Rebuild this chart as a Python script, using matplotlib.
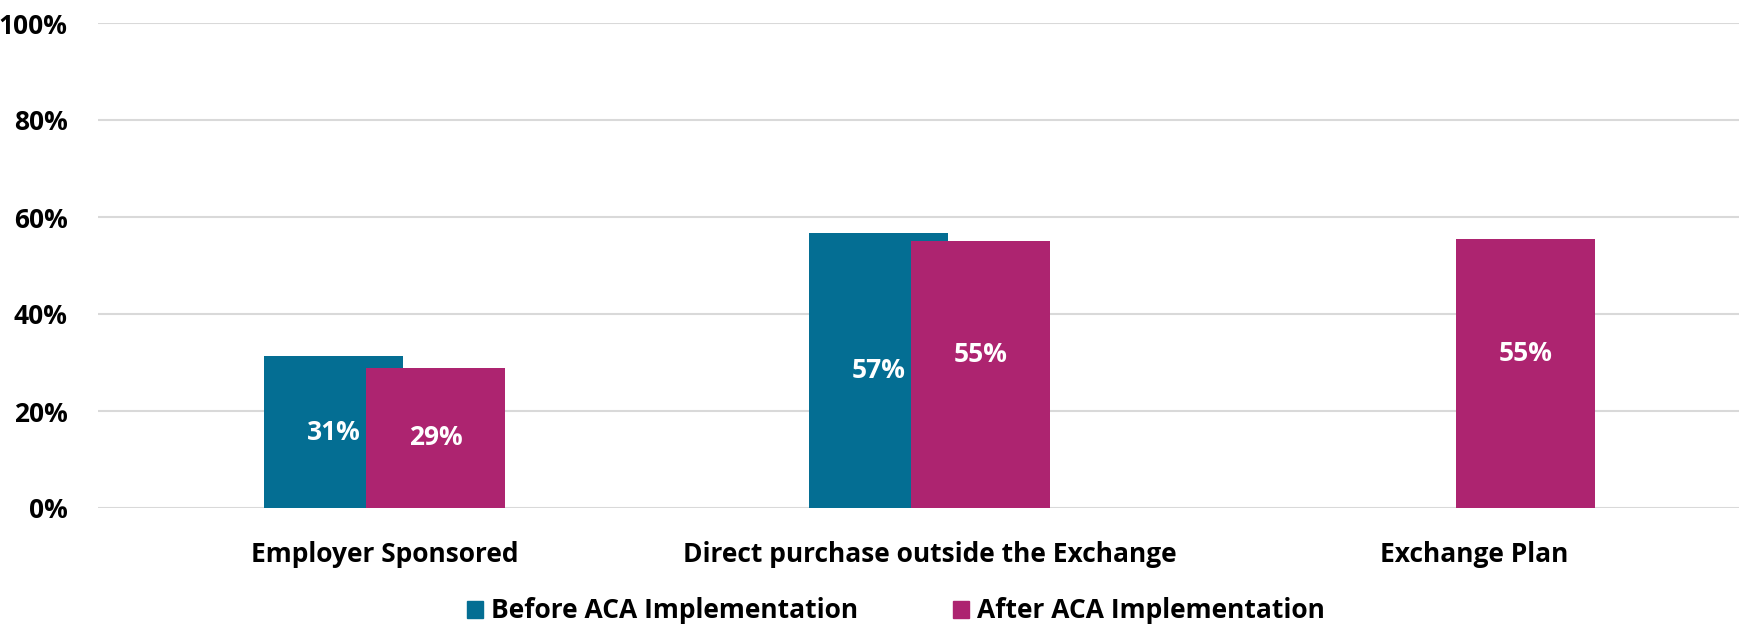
import matplotlib
matplotlib.use("Agg")
import numpy as np
import matplotlib.pyplot as plt
from matplotlib.patches import Patch

plt.rcParams['font.family'] = ['Open Sans', 'DejaVu Sans']
plt.rcParams['font.weight'] = 'bold'

# ----------------- DATA -----------------

categories = ["Employer Sponsored", "Direct purchase outside the Exchange", "Exchange Plan"]
before_aca = [31.3, 56.7, None]     # percent
after_aca = [28.9, 55.0, 55.4]      # percent
series_names = ["Before ACA Implementation", "After ACA Implementation"]
yticks = [0, 20, 40, 60, 80, 100]

blue = "#046E93"
magenta = "#AD2470"
fs = 19

# ----------------- PLOT -----------------

fig = plt.figure(figsize=(17.4, 6.27), dpi=100)
ax = fig.add_axes([98 / 1740, 1 - 508 / 627, (1740 - 98) / 1740, 485 / 627])

x = np.arange(len(categories))
width = 0.255
shift = 0.0936

for i, v in enumerate(before_aca):
    if v is None:
        continue
    ax.bar(x[i] - shift, v, width, color=blue, zorder=2)
for i, v in enumerate(after_aca):
    ax.bar(x[i] + shift, v, width, color=magenta, zorder=3)

# value labels, white inside the bars
for i, v in enumerate(before_aca):
    if v is None:
        continue
    ax.text(x[i] - shift, v / 2, f"{v:.0f}%", color="white", ha="center", va="center",
            fontsize=fs, fontweight="bold", zorder=5)
for i, v in enumerate(after_aca):
    ypos = v / 2 if i == 0 else v / 2 + 4.2
    ax.text(x[i] + shift, ypos, f"{v:.0f}%", color="white", ha="center", va="center",
            fontsize=fs, fontweight="bold", zorder=5)

ax.set_ylim(0, 100)
ax.set_xlim(-0.526, 2.488)
ax.set_yticks(yticks)
ax.set_yticklabels([f"{t}%" for t in yticks], fontsize=fs, fontweight="bold")
ax.set_xticks(x)
ax.set_xticklabels(categories, fontsize=fs, fontweight="bold")
ax.tick_params(axis="both", length=0)
ax.tick_params(axis="y", pad=22)
ax.tick_params(axis="x", pad=24)

ax.grid(axis="y", color="#D9D9D9", linewidth=1.5, zorder=0)
ax.set_axisbelow(True)
for s in ax.spines.values():
    s.set_visible(False)

handles = [Patch(color=blue), Patch(color=magenta)]
fig.legend(handles, series_names, loc="center", bbox_to_anchor=(896 / 1740, 1 - 611 / 627),
           ncol=2, frameon=False, fontsize=fs, handlelength=0.6, handleheight=0.6,
           handletextpad=0.3, columnspacing=3.6)

fig.savefig("out.png", dpi=100)
